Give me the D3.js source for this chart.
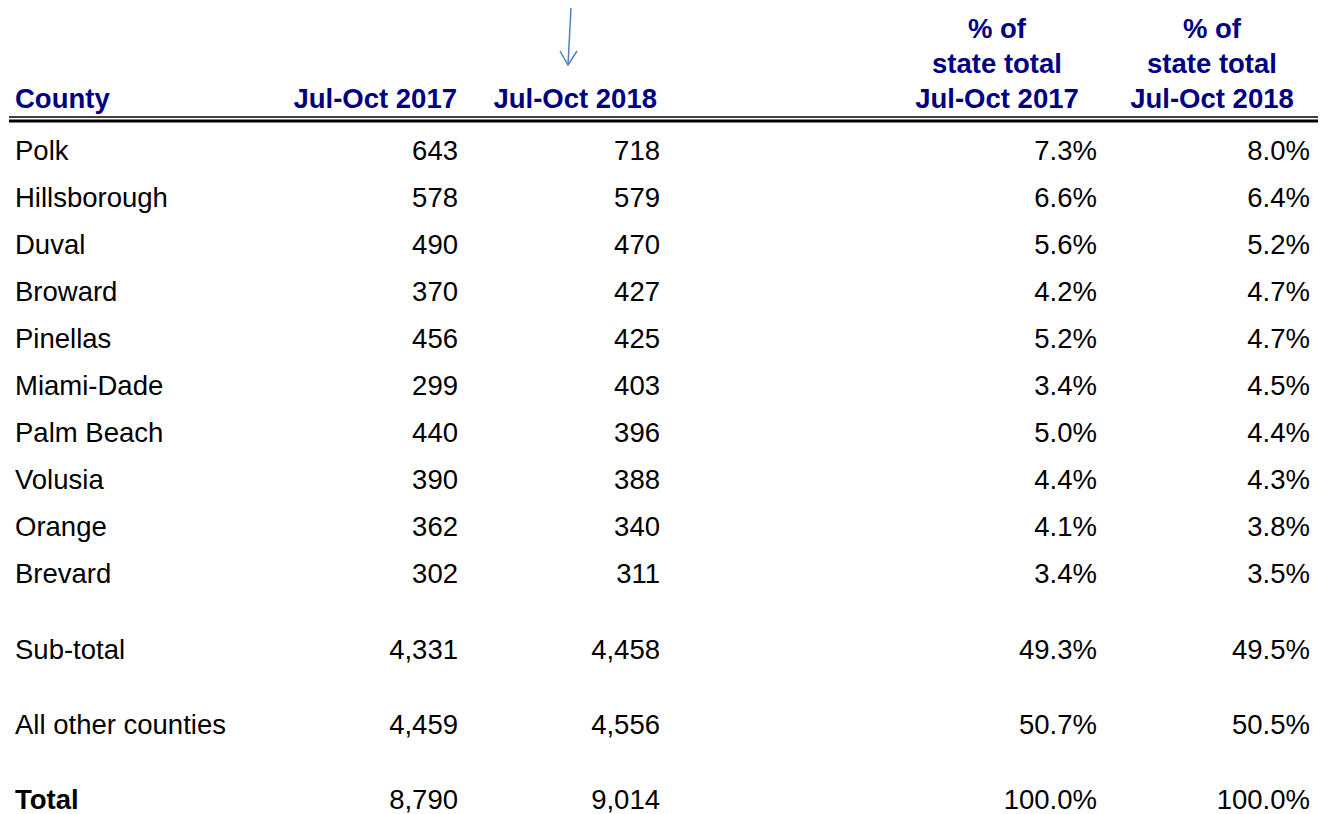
<!DOCTYPE html>
<html>
<head>
<meta charset="utf-8">
<script src="https://cdn.jsdelivr.net/npm/d3@7"></script>
<style>
  body { margin: 0; background: #fff; }
  text { font-family: "Liberation Sans", Arial, sans-serif; }
</style>
</head>
<body>
<svg id="table"></svg>
<script>
// Table data
var counties = ["Polk", "Hillsborough", "Duval", "Broward", "Pinellas", "Miami-Dade",
  "Palm Beach", "Volusia", "Orange", "Brevard", "Sub-total", "All other counties", "Total"];
var count2017 = [643, 578, 490, 370, 456, 299, 440, 390, 362, 302, 4331, 4459, 8790];
var count2018 = [718, 579, 470, 427, 425, 403, 396, 388, 340, 311, 4458, 4556, 9014];
var pct2017 = [0.073, 0.066, 0.056, 0.042, 0.052, 0.034, 0.050, 0.044, 0.041, 0.034, 0.493, 0.507, 1.000];
var pct2018 = [0.080, 0.064, 0.052, 0.047, 0.047, 0.045, 0.044, 0.043, 0.038, 0.035, 0.495, 0.505, 1.000];

var headers = [
  ["County"],
  ["Jul-Oct 2017"],
  ["Jul-Oct 2018"],
  ["% of", "state total", "Jul-Oct 2017"],
  ["% of", "state total", "Jul-Oct 2018"]
];

var width = 1327, height = 814;
var svg = d3.select("#table").attr("width", width).attr("height", height);

// columns: x anchor and alignment
var colKeys = ["county", "c17", "c18", "p17", "p18"];
var colX = d3.scaleOrdinal(colKeys, [15, 458, 660, 1097, 1310]);
var headX = d3.scaleOrdinal(colKeys, [15, 457, 657, 997, 1212]);
var headAnchor = ["start", "end", "end", "middle", "middle"];

// rows: the three summary rows are spaced further apart
var slot = function (i) { return i < 10 ? i : 9 + 1.6 * (i - 9); };
var y = d3.scaleLinear([0, 1], [159.5, 206.6]);

var fmtN = d3.format(",");
var fmtP = d3.format(".1%");
var fs = 27.5;

// Header
var hdr = svg.append("g");
headers.forEach(function (lines, c) {
  lines.forEach(function (t, k) {
    hdr.append("text")
      .attr("x", headX(colKeys[c]))
      .attr("y", 108 - 35 * (lines.length - 1 - k))
      .attr("text-anchor", headAnchor[c])
      .attr("font-size", fs)
      .attr("font-weight", "bold")
      .attr("fill", "#000080")
      .text(t);
  });
});

// double rule under header
svg.append("line").attr("x1", 9).attr("x2", 1318).attr("y1", 117).attr("y2", 117)
  .attr("stroke", "#000").attr("stroke-width", 1.5);
svg.append("line").attr("x1", 9).attr("x2", 1318).attr("y1", 121).attr("y2", 121)
  .attr("stroke", "#000").attr("stroke-width", 3);

// arrow
var arrow = svg.append("g").attr("stroke", "#4f81bd").attr("stroke-width", 1.5).attr("fill", "none");
arrow.append("line").attr("x1", 571).attr("y1", 8).attr("x2", 568).attr("y2", 65);
arrow.append("path").attr("d", "M560,51 L568,65 L577,51");

// Body rows
var rows = svg.append("g").selectAll("g")
  .data(counties)
  .join("g")
  .attr("transform", function (d, i) { return "translate(0," + y(slot(i)) + ")"; })
  .attr("font-size", fs)
  .attr("fill", "#000");

function cell(key, anchor, fn) {
  rows.append("text")
    .attr("x", colX(key))
    .attr("text-anchor", anchor)
    .attr("font-weight", function (d) { return key === "county" && d === "Total" ? "bold" : "normal"; })
    .text(fn);
}
cell("county", "start", function (d) { return d; });
cell("c17", "end", function (d, i) { return fmtN(count2017[i]); });
cell("c18", "end", function (d, i) { return fmtN(count2018[i]); });
cell("p17", "end", function (d, i) { return fmtP(pct2017[i]); });
cell("p18", "end", function (d, i) { return fmtP(pct2018[i]); });
</script>
</body>
</html>
